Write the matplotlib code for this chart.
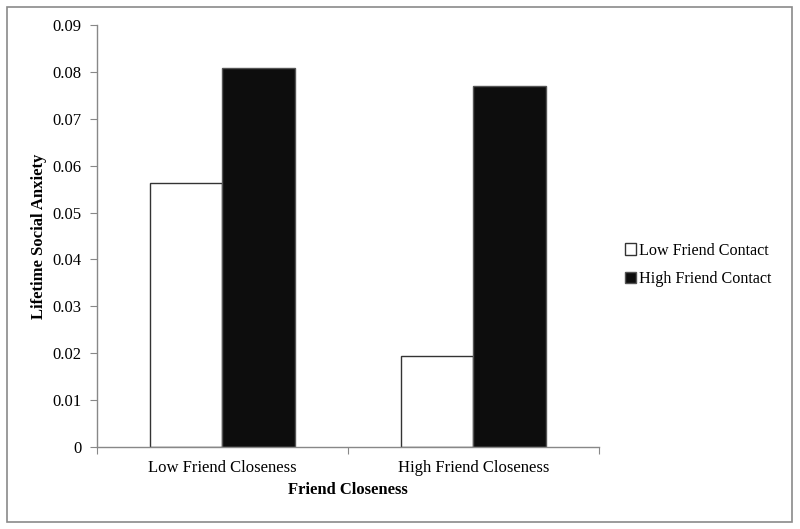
import matplotlib
matplotlib.use("Agg")
import matplotlib.pyplot as plt
import numpy as np
from matplotlib.patches import Rectangle

categories = ["Low Friend Closeness", "High Friend Closeness"]
series_names = ["Low Friend Contact", "High Friend Contact"]
low_contact = [0.0563, 0.0194]
high_contact = [0.0808, 0.0770]
yticks = [0, 0.01, 0.02, 0.03, 0.04, 0.05, 0.06, 0.07, 0.08, 0.09]
ytick_labels = ["0", "0.01", "0.02", "0.03", "0.04", "0.05", "0.06", "0.07", "0.08", "0.09"]

plt.rcParams['font.family'] = ['Liberation Serif', 'DejaVu Serif']
fig = plt.figure(figsize=(8, 5.29), dpi=100)
fig.patch.set_facecolor('white')
fig.add_artist(Rectangle((7/800, 1-522/529), 785/800, 515/529, transform=fig.transFigure,
                         fill=False, edgecolor='#8a8a8a', linewidth=1.2))

ax = fig.add_axes([97/800, 1-447/529, 502/800, 422/529])
x = np.arange(len(categories))
w = 0.287
ax.bar(x - w/2, low_contact, w, color='white', edgecolor='#333333', linewidth=1.0, label=series_names[0])
ax.bar(x + w/2, high_contact, w, color='#0d0d0d', edgecolor='#555555', linewidth=1.0, label=series_names[1])

ax.set_xlim(-0.5, 1.5)
ax.set_ylim(0, 0.09)
ax.set_yticks(yticks)
ax.set_yticklabels(ytick_labels, fontsize=12)
ax.set_xticks([-0.5, 0.5, 1.5])
ax.set_xticklabels([])
ax.set_xticks(x, minor=True)
ax.set_xticklabels(categories, minor=True, fontsize=12)
ax.tick_params(axis='x', which='minor', length=0, pad=9)
ax.tick_params(axis='x', which='major', length=5, color='#888888', direction='out')
ax.tick_params(axis='y', length=5, color='#888888', direction='out', pad=6)
for s in ['top', 'right']:
    ax.spines[s].set_visible(False)
for s in ['left', 'bottom']:
    ax.spines[s].set_color('#888888')
    ax.spines[s].set_linewidth(1.0)

ax.set_xlabel("Friend Closeness", fontsize=12, fontweight='bold', labelpad=5)
ax.set_ylabel("Lifetime Social Anxiety", fontsize=12, fontweight='bold', labelpad=4)

fig.legend(loc='center left', bbox_to_anchor=(610/800, 1-265/529), frameon=False,
           fontsize=11.6, handlelength=0.7, handleheight=0.7, handletextpad=0.2,
           labelspacing=0.8)

fig.savefig("out.png", dpi=100, facecolor='white')
